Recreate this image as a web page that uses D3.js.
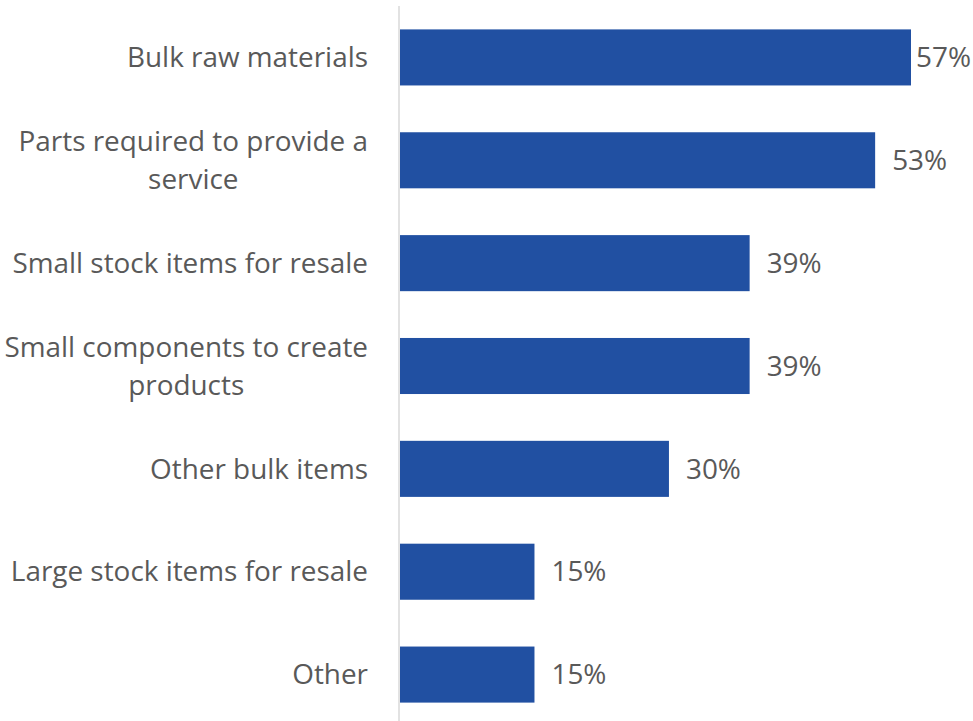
<!DOCTYPE html>
<html>
<head>
<meta charset="utf-8">
<script src="https://cdn.jsdelivr.net/npm/d3@7"></script>
<style>
  html, body { margin: 0; padding: 0; background: #fff; }
  svg { display: block; }
  text { font-family: "Open Sans", "Noto Sans", sans-serif; fill: #595959; }
</style>
</head>
<body>
<svg id="chart" width="973" height="721"></svg>
<script>
// Share of respondents by type of item stored
const categories = [
  ["Bulk raw materials"],
  ["Parts required to provide a", "service"],
  ["Small stock items for resale"],
  ["Small components to create", "products"],
  ["Other bulk items"],
  ["Large stock items for resale"],
  ["Other"]
];
const values = [57, 53, 39, 39, 30, 15, 15];
const valueLabels = ["57%", "53%", "39%", "39%", "30%", "15%", "15%"];

const W = 973, H = 721;
const plotLeft = 400, fontSize = 27.9, lineGap = 38;

const svg = d3.select("#chart");
const keys = categories.map((c, i) => i);

const y = d3.scaleBand()
  .domain(keys)
  .range([6, 726])
  .paddingInner(0.455)
  .paddingOuter(0.2275);

const x = d3.scaleLinear()
  .domain([0, 60])
  .range([plotLeft, plotLeft + 60 * (511 / 57)]);

// category axis line
svg.append("line")
  .attr("x1", plotLeft - 1).attr("x2", plotLeft - 1)
  .attr("y1", 6).attr("y2", H)
  .attr("stroke", "#d9d9d9").attr("stroke-width", 1.5);

// bars
svg.append("g").selectAll("rect")
  .data(values)
  .join("rect")
  .attr("x", x(0))
  .attr("y", (d, i) => y(i))
  .attr("width", d => x(d) - x(0))
  .attr("height", y.bandwidth())
  .attr("fill", "#2150a2");

// value labels, kept inside the drawing area
const vl = svg.append("g").selectAll("text")
  .data(values)
  .join("text")
  .attr("y", (d, i) => y(i) + y.bandwidth() / 2)
  .attr("dy", "0.35em")
  .attr("font-size", fontSize)
  .text((d, i) => valueLabels[i]);
vl.each(function (d) {
  const w = this.getComputedTextLength();
  d3.select(this).attr("x", Math.min(x(d) + 17, W - 2 - w));
});

// category labels: block right-aligned, wrapped lines centred within it
const cg = svg.append("g");
categories.forEach((lines, i) => {
  const g = cg.append("g");
  const cy = y(i) + y.bandwidth() / 2;
  const texts = lines.map((ln, j) => g.append("text")
    .attr("font-size", fontSize)
    .attr("text-anchor", "middle")
    .attr("y", cy + (j - (lines.length - 1) / 2) * lineGap)
    .attr("dy", "0.35em")
    .text(ln));
  const maxW = d3.max(texts, t => t.node().getComputedTextLength());
  texts.forEach(t => t.attr("x", plotLeft - 32 - maxW / 2));
});
</script>
</body>
</html>
